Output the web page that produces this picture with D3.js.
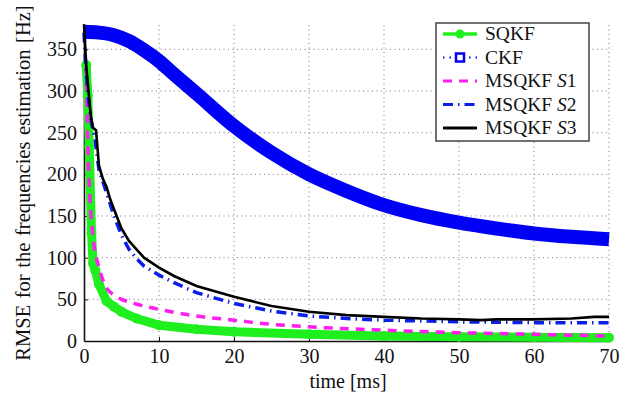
<!DOCTYPE html>
<html>
<head>
<meta charset="utf-8">
<script src="https://cdn.jsdelivr.net/npm/d3@7"></script>
<style>
  body { margin: 0; background: #fff; }
  svg text { font-family: "Liberation Serif", "Times New Roman", serif; fill: #111; }
</style>
</head>
<body>
<svg width="639" height="398"></svg>
<script>
// time [ms] / RMSE [Hz]
const sqkfT = [0.3, 0.5, 0.7, 1.0, 1.2, 1.5, 2, 3, 4, 5, 7, 10, 15, 20, 30, 40, 50, 60, 70];
const sqkfV = [331, 295, 233, 130, 93, 85, 68, 48, 41, 35, 27, 19, 14, 11, 8, 6, 5, 4.5, 4];

const ckfT = [0, 2, 4, 6, 8, 10, 12, 15, 20, 25, 30, 35, 40, 45, 50, 55, 60, 65, 70];
const ckfV = [371, 370, 367, 360, 349, 336, 320, 297, 258, 226, 200, 180, 163, 151, 142, 135, 129, 125, 122];

const s1T = [0.3, 0.5, 0.8, 1.2, 2, 3, 4, 5, 6, 8, 10, 15, 20, 25, 30, 40, 50, 60, 70];
const s1V = [330, 240, 170, 125, 88, 64, 55, 50, 47, 42, 38, 30, 25, 20, 17, 13, 10, 8, 6];

const s2T = [0, 0.3, 0.6, 1, 1.5, 2, 3, 4, 5, 6, 7, 8, 10, 12, 15, 20, 25, 30, 35, 40, 50, 60, 70];
const s2V = [370, 320, 290, 262, 240, 205, 178, 150, 127, 110, 99, 90, 79, 70, 58, 45, 36, 30, 27, 25, 23, 22, 22];

const s3T = [0, 0.3, 0.6, 0.9, 1.2, 1.6, 2, 2.5, 3, 3.5, 4, 5, 6, 7, 8, 10, 12, 15, 20, 25, 30, 35, 40, 45, 50, 53, 55, 60, 65, 68, 70];
const s3V = [380, 330, 300, 270, 256, 253, 210, 195, 185, 170, 158, 135, 120, 110, 100, 88, 78, 66, 53, 42, 35, 31, 29, 27, 26, 25, 26, 26, 27, 29, 29];

const xTicks = [0, 10, 20, 30, 40, 50, 60, 70];
const yTicks = [0, 50, 100, 150, 200, 250, 300, 350];
const legendNames = ["SQKF", "CKF", "MSQKF S1", "MSQKF S2", "MSQKF S3"];

const serif = '"Liberation Serif", "Times New Roman", serif';
const svg = d3.select("svg");
const x = d3.scaleLinear().domain([0, 70]).range([84, 609]);
const y = d3.scaleLinear().domain([0, 380]).range([341, 24.3]);

// grid
svg.append("g").selectAll("line").data(xTicks.slice(1)).join("line")
  .attr("x1", d => x(d)).attr("x2", d => x(d))
  .attr("y1", y(0)).attr("y2", y(380))
  .attr("stroke", "#777").attr("stroke-width", 1).attr("stroke-dasharray", "1,3.5");
svg.append("g").selectAll("line").data(yTicks.slice(1)).join("line")
  .attr("x1", x(0)).attr("x2", x(70))
  .attr("y1", d => y(d)).attr("y2", d => y(d))
  .attr("stroke", "#777").attr("stroke-width", 1).attr("stroke-dasharray", "1,3.5");

// axes
const xAxis = svg.append("g").attr("transform", `translate(0,${y(0)})`)
  .call(d3.axisBottom(x).tickValues(xTicks).tickSizeInner(-4).tickSizeOuter(0).tickPadding(8));
const yAxis = svg.append("g").attr("transform", `translate(${x(0)},0)`)
  .call(d3.axisLeft(y).tickValues(yTicks).tickSizeInner(-4).tickSizeOuter(0).tickPadding(7));
[xAxis, yAxis].forEach(a => {
  a.attr("font-family", null).attr("font-size", null);
  a.select(".domain").attr("stroke", "#111").attr("stroke-width", 1.6);
  a.selectAll(".tick line").attr("stroke", "#111");
  a.selectAll(".tick text").style("font-size", "20px").style("font-family", serif).attr("fill", "#111");
});
xAxis.selectAll(".tick line").filter(d => d === 0 || d === 70).remove();
yAxis.selectAll(".tick line").filter(d => d === 0).remove();

svg.append("text").attr("x", 348).attr("y", 388).attr("text-anchor", "middle")
  .style("font-size", "20px").style("font-family", serif).text("time [ms]");
svg.append("text").attr("transform", "translate(30,183) rotate(-90)").attr("text-anchor", "middle")
  .style("font-size", "20.5px").style("word-spacing", "1.5px").style("font-family", serif)
  .text("RMSE for the frequencies estimation [Hz]");

const line = d3.line().x(d => x(d[0])).y(d => y(d[1]));
const smooth = d3.line().x(d => x(d[0])).y(d => y(d[1])).curve(d3.curveMonotoneX);
const zip = (t, v) => t.map((d, i) => [d, v[i]]);

// SQKF
svg.append("path").datum(zip(sqkfT, sqkfV)).attr("d", line)
  .attr("fill", "none").attr("stroke", "#1fef1f").attr("stroke-width", 9)
  .attr("stroke-linejoin", "round").attr("stroke-linecap", "round");
svg.append("g").selectAll("circle").data(zip(sqkfT, sqkfV)).join("circle")
  .attr("cx", d => x(d[0])).attr("cy", d => y(d[1])).attr("r", 5).attr("fill", "#1fef1f");

// CKF
svg.append("path").datum(zip(ckfT, ckfV)).attr("d", smooth)
  .attr("fill", "none").attr("stroke", "#0000f5").attr("stroke-width", 14);

// MSQKF S1
svg.append("path").datum(zip(s1T, s1V)).attr("d", smooth)
  .attr("fill", "none").attr("stroke", "#ff1fef").attr("stroke-width", 3.5)
  .attr("stroke-dasharray", "9,7");

// MSQKF S2
svg.append("path").datum(zip(s2T, s2V)).attr("d", line)
  .attr("fill", "none").attr("stroke", "#0a1fe8").attr("stroke-width", 3.5)
  .attr("stroke-dasharray", "10,5,1.5,5");

// MSQKF S3
svg.append("path").datum(zip(s3T, s3V)).attr("d", line)
  .attr("fill", "none").attr("stroke", "#000").attr("stroke-width", 2.6);

// legend
const lg = svg.append("g");
lg.append("rect").attr("x", 436).attr("y", 23).attr("width", 153).attr("height", 118)
  .attr("fill", "#fff").attr("stroke", "#444").attr("stroke-width", 1.5);
const rows = lg.selectAll("g").data(legendNames).join("g")
  .attr("transform", (d, i) => `translate(0,${34 + i * 23.5})`);
const styles = [
  { c: "#1fef1f", w: 3.5, dash: null },
  { c: "#0000f5", w: 2, dash: "1.5,5" },
  { c: "#ff1fef", w: 3, dash: "9,7" },
  { c: "#0a1fe8", w: 3, dash: "10,5,1.5,5" },
  { c: "#000", w: 3, dash: null }
];
rows.append("line").attr("x1", 443).attr("x2", 477).attr("y1", 0).attr("y2", 0)
  .attr("stroke", (d, i) => styles[i].c).attr("stroke-width", (d, i) => styles[i].w)
  .attr("stroke-dasharray", (d, i) => styles[i].dash);
rows.filter((d, i) => i === 0).append("circle").attr("cx", 460).attr("cy", 0).attr("r", 4.5).attr("fill", "#1fef1f");
rows.filter((d, i) => i === 1).append("rect").attr("x", 456).attr("y", -4).attr("width", 8).attr("height", 8)
  .attr("fill", "#fff").attr("stroke", "#0000f5").attr("stroke-width", 2.5);
const labels = rows.append("text").attr("x", 485).attr("y", 6)
  .style("font-size", "19.5px").style("font-family", serif);
labels.each(function(d) {
  const t = d3.select(this);
  const parts = d.split(" ");
  if (parts.length === 1) { t.text(d); return; }
  t.append("tspan").text(parts[0] + " ");
  t.append("tspan").attr("font-style", "italic").text(parts[1][0]);
  t.append("tspan").text(parts[1].slice(1));
});
</script>
</body>
</html>
